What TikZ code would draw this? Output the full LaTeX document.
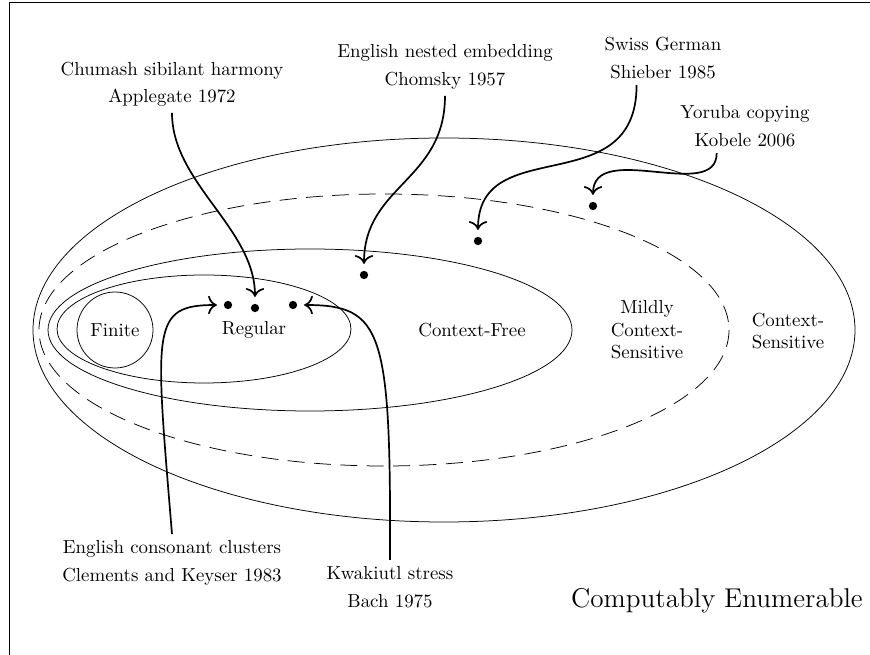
\documentclass[tikz,border=0pt]{standalone}
\usepackage{tikz}
\usetikzlibrary{positioning, arrows.meta}

\begin{document}
\begin{tikzpicture}
[
x=0.53pt, y=-0.53pt,
region-a/.style={draw},
region-b/.style={draw, dash pattern=on 9pt off 5pt},
text-a/.style={align=center},
text-b/.style={align=center, font=\Large},
case-dot/.style={circle, fill, inner sep=0pt, minimum size=4.4pt},
case-arrow/.style={-{To[scale=1.3]}, line width=0.9pt, shorten >=3.5pt}
]

\useasboundingbox (0,0) rectangle (870,655);
\draw (9,2) rectangle (900,700);

% nested classes
\draw [region-a] (444,330) ellipse [x radius=411, y radius=192];
\draw [region-b] (384,330) ellipse [x radius=345, y radius=136];
\draw [region-a] (310,330) ellipse [x radius=262, y radius=81];
\draw [region-a] (204,329) ellipse [x radius=147, y radius=54];
\draw [region-a] (115,330) circle [radius=38];

\node (finite)  [text-a] at (115,330) {Finite};
\node (regular) [text-a] at (254,330) {Regular};
\node (cf)      [text-a] at (472,330) {Context-Free};
\node (mcs)     [text-a] at (647,330) {Mildly\\Context-\\Sensitive};
\node (cs)      [text-a] at (788,331) {Context-\\Sensitive};
\node (ce)      [text-b] at (717,601) {Computably Enumerable};

% attested patterns
\node (dot-reg-1)  [case-dot] at (228,305) {};
\node (dot-reg-2)  [case-dot] at (255,308) {};
\node (dot-reg-3)  [case-dot] at (293,305) {};
\node (dot-cf)     [case-dot] at (364,275) {};
\node (dot-swiss)  [case-dot] at (478,241) {};
\node (dot-yoruba) [case-dot] at (593,206) {};

\node (chumash)  [text-a] at (172,84)  {Chumash sibilant harmony\\[2.5pt]Applegate 1972};
\node (nested)   [text-a] at (445,67)  {English nested embedding\\[2.5pt]Chomsky 1957};
\node (swiss)    [text-a] at (663,58)  {Swiss German\\[2.5pt]Shieber 1985};
\node (yoruba)   [text-a] at (745,126) {Yoruba copying\\[2.5pt]Kobele 2006};
\node (clusters) [text-a] at (172,563) {English consonant clusters\\[2.5pt]Clements and Keyser 1983};
\node (kwakiutl) [text-a] at (390,587) {Kwakiutl stress\\[2.5pt]Bach 1975};

\draw [case-arrow] (chumash.south) .. controls +(0,70) and +(0,-75) .. (dot-reg-2.north);
\draw [case-arrow] (nested.south) .. controls +(0,85) and +(0,-85) .. (dot-cf.north);
\draw [case-arrow] ([xshift=-14pt]swiss.south) .. controls +(0,118) and +(0,-105) .. (dot-swiss.north);
\draw [case-arrow] ([xshift=-15pt]yoruba.south) .. controls +(0,50) and +(0,-62) .. (dot-yoruba.north);
\draw [case-arrow] (clusters.north) .. controls +(-17,-207) and +(-73,0) .. (dot-reg-1.west);
\draw [case-arrow] (kwakiutl.north) .. controls +(1,-230) and +(85,0) .. (dot-reg-3.east);

\end{tikzpicture}
\end{document}
